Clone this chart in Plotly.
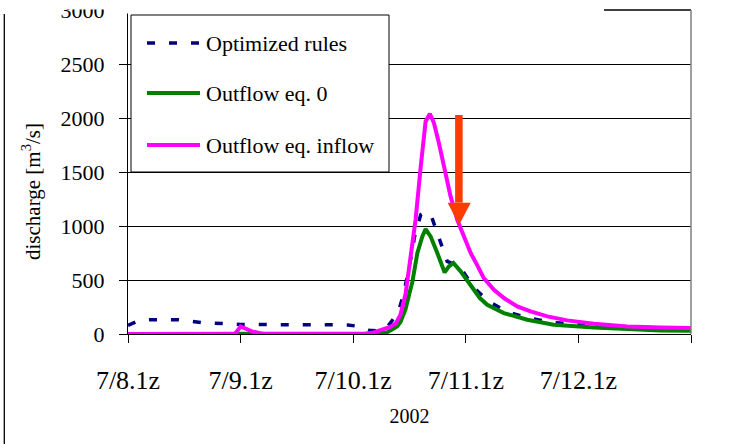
import plotly.graph_objects as go

# ---- data (day offset from 7/8 1z, discharge m3/s) ----
opt_day = [0, 0.1, 0.2, 0.45, 0.65, 0.85, 1.0, 1.5, 1.95, 2.05, 2.14, 2.22, 2.3, 2.4, 2.45, 2.51, 2.545, 2.6, 2.64, 2.7, 2.77, 2.835, 2.9, 2.95, 3.07, 3.2, 3.38, 3.575, 3.77, 3.975, 4.14, 4.5, 5.0]
opt_q = [80, 125, 132, 132, 107, 100, 88, 86, 84, 70, 35, 28, 60, 200, 380, 690, 900, 1105, 1135, 1074, 873, 672, 645, 620, 430, 302, 200, 144, 107, 89, 77, 62, 52]

grn_day = [0, 2.22, 2.3, 2.39, 2.42, 2.465, 2.5, 2.525, 2.57, 2.614, 2.643, 2.687, 2.747, 2.812, 2.85, 2.89, 2.954, 3.043, 3.072, 3.125, 3.19, 3.338, 3.546, 3.78, 4.138, 4.434, 4.73, 5.0]
grn_q = [0, 5, 15, 70, 110, 230, 380, 480, 750, 904, 972, 904, 750, 570, 626, 657, 580, 456, 410, 333, 271, 194, 132, 86, 61, 46, 33, 30]

mag_day = [0, 0.95, 1.0, 1.05, 1.1, 1.2, 2.1, 2.18, 2.244, 2.33, 2.38, 2.42, 2.465, 2.51, 2.554, 2.6, 2.643, 2.681, 2.717, 2.761, 2.806, 2.865, 2.924, 2.983, 3.043, 3.1, 3.16, 3.25, 3.338, 3.457, 3.575, 3.724, 3.9, 4.138, 4.434, 4.73, 5.0]
mag_q = [0, 0, 70, 45, 24, 0, 0, 15, 35, 65, 100, 180, 370, 688, 1058, 1552, 1968, 2040, 1954, 1769, 1552, 1274, 1058, 904, 750, 640, 518, 410, 333, 256, 209, 163, 126, 95, 70, 61, 55]

tick_days = [0, 1, 2, 3, 4]
tick_labels = ["7/8.1z", "7/9.1z", "7/10.1z", "7/11.1z", "7/12.1z"]
y_ticks = [0, 500, 1000, 1500, 2000, 2500, 3000]

series_names = ["Optimized rules", "Outflow eq. 0", "Outflow eq. inflow"]

NAVY = "#000080"
GREEN = "#008000"
MAGENTA = "#FF00FF"
ARROW = "#FF3C00"
FONT = "Liberation Serif"

fig = go.Figure()
fig.add_trace(go.Scatter(x=opt_day, y=opt_q, mode="lines", name=series_names[0],
                         line=dict(color=NAVY, width=3.5, dash="8px,14px")))
fig.add_trace(go.Scatter(x=grn_day, y=grn_q, mode="lines", name=series_names[1],
                         line=dict(color=GREEN, width=4)))
fig.add_trace(go.Scatter(x=mag_day, y=mag_q, mode="lines", name=series_names[2],
                         line=dict(color=MAGENTA, width=4)))

L, R, T, B = 128, 38, 10, 110
W, H = 729, 444
pw, ph = W - L - R, H - T - B


def px(xp):
    return (xp - L) / pw


def py(yp):
    return (H - B - yp) / ph


shapes = []
# cover at top (cropped title area)
shapes.append(dict(type="rect", xref="paper", yref="paper", x0=px(-5), x1=px(112),
                   y0=py(9.5), y1=py(-5), fillcolor="white", line=dict(width=0), layer="above"))
shapes.append(dict(type="rect", xref="paper", yref="paper", x0=px(112), x1=px(604),
                   y0=py(13.5), y1=py(-5), fillcolor="white", line=dict(width=0), layer="above"))
# top border segment and right border (grey)
shapes.append(dict(type="line", xref="paper", yref="paper", x0=px(604), x1=1, y0=1, y1=1,
                   line=dict(color="#000000", width=1.3), layer="above"))
shapes.append(dict(type="line", xref="paper", yref="paper", x0=1, x1=1, y0=0, y1=1,
                   line=dict(color="#808080", width=1.5), layer="above"))
# chart frame left line
shapes.append(dict(type="line", xref="paper", yref="paper", x0=px(4.3), x1=px(4.3),
                   y0=py(14), y1=py(450), line=dict(color="#000000", width=1.3), layer="above"))

# arrow (annotation in data units)
shaft_x0, shaft_x1 = 2.905, 2.972
head_x0, head_x1, tip_x = 2.839, 3.044, 2.94
shaft_top, head_base, tip_y = 2028, 1216, 1009
shapes.append(dict(type="rect", xref="x", yref="y", x0=shaft_x0, x1=shaft_x1, y0=head_base, y1=shaft_top,
                   fillcolor=ARROW, line=dict(width=0), layer="above"))
shapes.append(dict(type="path", xref="x", yref="y",
                   path=f"M {head_x0},{head_base} L {head_x1},{head_base} L {tip_x},{tip_y} Z",
                   fillcolor=ARROW, line=dict(width=0), layer="above"))

# legend box
shapes.append(dict(type="rect", xref="paper", yref="paper", x0=px(131), x1=px(389),
                   y0=py(172), y1=py(15), fillcolor="white", line=dict(color="#000000", width=1), layer="above"))
leg_y = [43, 93, 145]
leg_styles = [dict(color=NAVY, width=3.5, dash="8px,14px"), dict(color=GREEN, width=4), dict(color=MAGENTA, width=4)]
annotations = []
for name, yy, st in zip(series_names, leg_y, leg_styles):
    shapes.append(dict(type="line", xref="paper", yref="paper", x0=px(147), x1=px(200),
                       y0=py(yy), y1=py(yy), line=st, layer="above"))
    annotations.append(dict(xref="paper", yref="paper", x=px(204), y=py(yy), text=name,
                            showarrow=False, xanchor="left", yanchor="middle",
                            font=dict(family=FONT, size=22, color="black")))

# y-axis title
annotations.append(dict(xref="paper", yref="paper", x=px(31), y=py(192), text="discharge [m<sup>3</sup>/s]",
                        showarrow=False, textangle=-90, xanchor="center", yanchor="middle",
                        font=dict(family=FONT, size=21, color="black")))

fig.update_layout(
    width=W, height=H,
    margin=dict(l=L, r=R, t=T, b=B, autoexpand=False),
    paper_bgcolor="white", plot_bgcolor="white",
    showlegend=False,
    font=dict(family=FONT, color="black"),
    shapes=shapes,
    annotations=annotations,
    xaxis=dict(range=[0, 5], tickmode="array", tickvals=tick_days, ticktext=tick_labels,
               automargin=False,
               showgrid=False, zeroline=False, showline=True, linecolor="black", linewidth=1.3,
               ticks="outside", ticklen=8, tickcolor="black", tickwidth=1.3,
               minor=dict(dtick=1, tick0=0, ticks="outside", ticklen=8, tickcolor="black", tickwidth=1.3, showgrid=False),
               tickfont=dict(family=FONT, size=26, color="black"),
               ticklabelstandoff=15,
               title=dict(text="2002", font=dict(family=FONT, size=20, color="black"), standoff=14)),
    yaxis=dict(range=[0, 3000], tickmode="array", tickvals=y_ticks,
               automargin=False,
               showgrid=True, gridcolor="black", gridwidth=1, zeroline=False,
               showline=True, linecolor="black", linewidth=1.3,
               ticks="outside", ticklen=8, tickcolor="black", tickwidth=1.3,
               tickfont=dict(family=FONT, size=22, color="black"),
               ticklabeloverflow="allow",
               ticklabelstandoff=10),
)

fig.write_html("out.html", config={"displayModeBar": False},
               post_script="document.body.style.margin='0';document.body.style.padding='0';")
